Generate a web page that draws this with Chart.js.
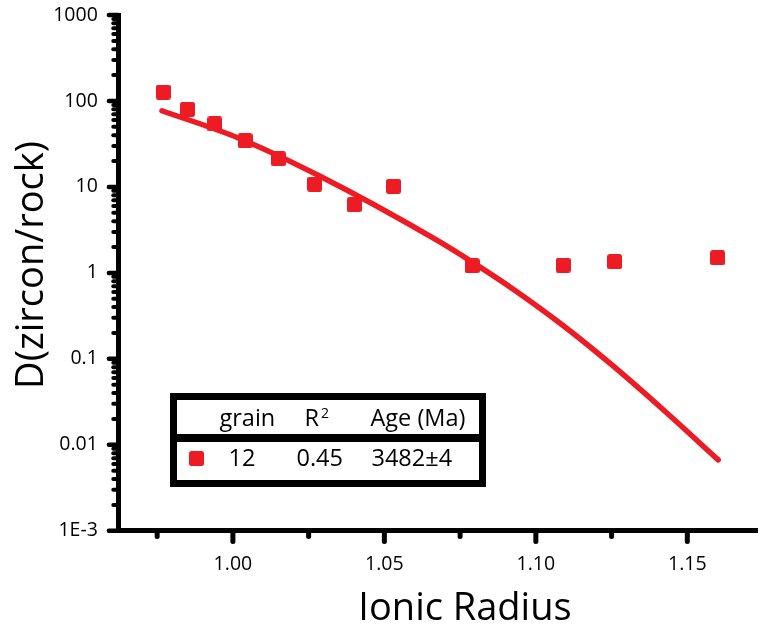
<!DOCTYPE html>
<html><head><meta charset="utf-8">
<script src="https://cdn.jsdelivr.net/npm/chart.js@4.4.1/dist/chart.umd.min.js"></script>
<style>
html,body{margin:0;padding:0;background:#fff;}
#wrap{position:relative;width:766px;height:630px;overflow:hidden;font-family:"Open Sans",sans-serif;color:#000;}
#c{position:absolute;left:0;top:0;}
.t{position:absolute;white-space:nowrap;}
#legendBox{position:absolute;left:170px;top:393px;width:316px;height:94px;box-sizing:border-box;border:7px solid #000;}
#legendSep{position:absolute;left:170px;top:434px;width:316px;height:7.7px;background:#000;}
.lg{position:absolute;white-space:nowrap;font-size:23.5px;line-height:23.5px;}
#legendMark{position:absolute;left:189px;top:451px;width:15px;height:15px;border-radius:2.5px;}
</style></head><body>
<div id="wrap">
<canvas id="c" width="766" height="630"></canvas>
<div id="xtitle" class="t"></div>
<div id="ytitle" class="t"></div>
<div id="legendBox"></div>
<div id="legendSep"></div>
<div id="legendMark"></div>
<div id="lgH0" class="lg"></div><div id="lgH1" class="lg"></div><div id="lgH2" class="lg"></div>
<div id="lgR0" class="lg"></div><div id="lgR1" class="lg"></div><div id="lgR2" class="lg"></div>
</div>
<script>
// ---- data ----
const categories = ['Lu','Yb','Tm','Er','Ho','Dy','Tb','Gd','Sm','Nd','Pr','La'];
const ionicRadius = [0.977,0.985,0.994,1.004,1.015,1.027,1.040,1.053,1.079,1.109,1.126,1.160];
const dValues = [127,80,54,34.5,21.3,10.8,6.2,10.2,1.21,1.23,1.35,1.50];
const fitRadius = [0.9766,1.0018,1.0288,1.0669,1.0793,1.0929,1.1092,1.1255,1.1427,1.1602];
const fitD = [77.0,37.1,13.3,2.45,1.316,0.633,0.241,0.0827,0.0244,0.00668];
const xTickValues = [1.00,1.05,1.10,1.15];
const xTickLabels = ['1.00','1.05','1.10','1.15'];
const xMinorTicks = [0.975,1.025,1.075,1.125];
const yTickValues = [0.001,0.01,0.1,1,10,100,1000];
const yTickLabels = ['1E-3','0.01','0.1','1','10','100','1000'];
const xTitle = 'Ionic Radius';
const yTitle = 'D(zircon/rock)';
const legendHeader = ['grain','R','Age (Ma)'];
const legendSup = '2';
const legendRow = ['12','0.45','3482±4'];

const RED = '#ED1C24';
const FONT = "'Open Sans', sans-serif";

// rounded square marker
const mk = document.createElement('canvas');
mk.width = 15; mk.height = 15;
(function(){const g = mk.getContext('2d'); g.fillStyle = RED; g.beginPath(); g.roundRect(0,0,15,15,2.5); g.fill();})();

const tickPlugin = {
  id: 'tickMarks',
  afterDraw(chart){
    const {ctx, scales:{x, y}} = chart;
    const L = 118.5, B = 530.5;
    ctx.save();
    ctx.strokeStyle = '#000';
    ctx.lineCap = 'round';
    ctx.lineWidth = 4.5;
    yTickValues.forEach(v => {
      const py = y.getPixelForValue(v);
      ctx.beginPath(); ctx.moveTo(L - 9.6, py); ctx.lineTo(L, py); ctx.stroke();
    });
    ctx.lineWidth = 4;
    for (let k = -3; k < 3; k++) {
      for (let m = 2; m <= 9; m++) {
        const py = y.getPixelForValue(m * Math.pow(10, k));
        ctx.beginPath(); ctx.moveTo(L - 5.2, py); ctx.lineTo(L, py); ctx.stroke();
      }
    }
    ctx.lineWidth = 5;
    xTickValues.forEach(v => {
      const px = x.getPixelForValue(v);
      ctx.beginPath(); ctx.moveTo(px, B); ctx.lineTo(px, B + 11); ctx.stroke();
    });
    xMinorTicks.forEach(v => {
      const px = x.getPixelForValue(v);
      ctx.beginPath(); ctx.moveTo(px, B); ctx.lineTo(px, B + 6); ctx.stroke();
    });
    ctx.restore();
  }
};

new Chart(document.getElementById('c'), {
  type: 'scatter',
  data: {
    datasets: [
      {
        label: 'fit',
        data: fitRadius.map((r, i) => ({x: r, y: fitD[i]})),
        showLine: true,
        borderColor: RED,
        borderWidth: 5.5,
        borderCapStyle: 'round',
        cubicInterpolationMode: 'monotone',
        pointRadius: 0,
        fill: false,
        order: 2
      },
      {
        label: 'grain 12',
        data: ionicRadius.map((r, i) => ({x: r, y: dValues[i]})),
        pointStyle: mk,
        pointRadius: 8,
        backgroundColor: RED,
        borderColor: RED,
        showLine: false,
        order: 1
      }
    ]
  },
  options: {
    responsive: false,
    animation: false,
    devicePixelRatio: 1,
    layout: {padding: {top: 15, right: 0, bottom: 0, left: 0}},
    plugins: {legend: {display: false}, tooltip: {enabled: false}},
    scales: {
      x: {
        type: 'linear', position: 'bottom', min: 0.96234, max: 1.173,
        afterBuildTicks: s => { s.ticks = xTickValues.map(v => ({value: v})); },
        afterFit: s => { s.height = 99.2; s.paddingLeft = 0; s.paddingRight = 0; },
        grid: {display: false, drawTicks: false},
        border: {display: true, width: 5, color: '#000'},
        ticks: {autoSkip: false, maxRotation: 0, padding: 22, color: '#000',
          font: {family: FONT, size: 19.5}, callback: (v, i) => xTickLabels[i]}
      },
      y: {
        type: 'logarithmic', position: 'left', min: 0.001, max: 1000,
        afterBuildTicks: s => { s.ticks = yTickValues.map(v => ({value: v})); },
        afterFit: s => { s.width = 118.8; s.paddingTop = 0; s.paddingBottom = 0; },
        grid: {display: false, drawTicks: false},
        border: {display: true, width: 5, color: '#000'},
        ticks: {autoSkip: false, padding: 21, color: '#000',
          font: {family: FONT, size: 19.5}, callback: (v, i) => yTickLabels[i]}
      }
    }
  },
  plugins: [tickPlugin]
});

// titles
function place(el, txt, css){ el.textContent = txt; Object.assign(el.style, css); }
place(document.getElementById('xtitle'), xTitle, {left: (465 - 200) + 'px', top: '586.3px', width: '400px', textAlign: 'center', fontSize: '38px', lineHeight: '38px'});
place(document.getElementById('ytitle'), yTitle, {left: (28.3 - 200) + 'px', top: (265 - 19) + 'px', width: '400px', height: '38px', textAlign: 'center', fontSize: '38px', lineHeight: '38px', transform: 'rotate(-90deg)'});

// legend
document.getElementById('legendMark').style.background = RED;
const h = ['lgH0','lgH1','lgH2'].map(id => document.getElementById(id));
const r = ['lgR0','lgR1','lgR2'].map(id => document.getElementById(id));
const hx = [219.5, 304.5, 370.5], rx = [228.5, 296.5, 371.5];
h.forEach((el, i) => { el.style.left = hx[i] + 'px'; el.style.top = '406.1px'; el.textContent = legendHeader[i]; });
const sup = document.createElement('span');
sup.textContent = legendSup;
Object.assign(sup.style, {fontSize: '14px', position: 'relative', top: '-8px', marginLeft: '2px'});
h[1].appendChild(sup);
r.forEach((el, i) => { el.style.left = rx[i] + 'px'; el.style.top = '446.4px'; el.textContent = legendRow[i]; });
</script>
</body></html>
